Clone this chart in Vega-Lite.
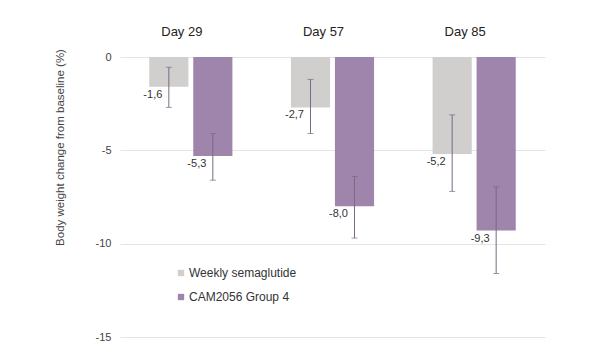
{
  "$schema": "https://vega.github.io/schema/vega-lite/v6.json",
  "width": 425,
  "height": 280,
  "autosize": "none",
  "padding": {"left": 120, "top": 57, "right": 60, "bottom": 19},
  "background": "white",
  "config": {
    "font": "Liberation Sans",
    "view": {"stroke": null}
  },
  "data": {
    "values": [
      {"day": "Day 29", "group": "Weekly semaglutide", "value": -1.6, "lo": -2.7, "hi": -0.55, "label": "-1,6"},
      {"day": "Day 29", "group": "CAM2056 Group 4", "value": -5.3, "lo": -6.6, "hi": -4.1, "label": "-5,3"},
      {"day": "Day 57", "group": "Weekly semaglutide", "value": -2.7, "lo": -4.1, "hi": -1.2, "label": "-2,7"},
      {"day": "Day 57", "group": "CAM2056 Group 4", "value": -8.0, "lo": -9.7, "hi": -6.4, "label": "-8,0"},
      {"day": "Day 85", "group": "Weekly semaglutide", "value": -5.2, "lo": -7.2, "hi": -3.1, "label": "-5,2"},
      {"day": "Day 85", "group": "CAM2056 Group 4", "value": -9.3, "lo": -11.6, "hi": -6.95, "label": "-9,3"}
    ]
  },
  "encoding": {
    "x": {
      "field": "day",
      "type": "nominal",
      "sort": ["Day 29", "Day 57", "Day 85"],
      "scale": {"paddingInner": 0, "paddingOuter": 0},
      "axis": {
        "orient": "top",
        "title": null,
        "domain": false,
        "ticks": false,
        "labelAngle": 0,
        "labelFontSize": 13,
        "labelColor": "#222222",
        "labelPadding": 19,
        "labelOffset": -9
      }
    },
    "xOffset": {
      "field": "group",
      "type": "nominal",
      "sort": ["Weekly semaglutide", "CAM2056 Group 4"],
      "scale": {"paddingInner": 0.11, "paddingOuter": 0.665}
    }
  },
  "layer": [
    {
      "mark": {"type": "bar"},
      "encoding": {
        "y": {
          "field": "value",
          "type": "quantitative",
          "scale": {"domain": [-15, 0], "nice": false, "zero": false},
          "axis": {
            "values": [0, -5, -10, -15],
            "labelExpr": "'' + datum.value",
            "title": "Body weight change from baseline (%)",
            "titleFontSize": 11.5,
            "titleFontWeight": "normal",
            "titleColor": "#444444",
            "titleX": -60,
            "titleY": 90,
            "titleAngle": -90,
            "titleAlign": "center",
            "titleBaseline": "middle",
            "domain": false,
            "ticks": false,
            "labelPadding": 9,
            "labelFontSize": 11,
            "labelColor": "#444444",
            "gridColor": "#e4e4e4",
            "gridWidth": 1
          }
        },
        "color": {
          "field": "group",
          "type": "nominal",
          "sort": ["Weekly semaglutide", "CAM2056 Group 4"],
          "scale": {"domain": ["Weekly semaglutide", "CAM2056 Group 4"], "range": ["#d1cece", "#9f84ab"]},
          "legend": {
            "orient": "none",
            "legendX": 55,
            "legendY": 210,
            "title": null,
            "symbolType": "square",
            "symbolSize": 40,
            "symbolStrokeWidth": 0,
            "labelFontSize": 12,
            "labelColor": "#333333",
            "labelOffset": 2,
            "rowPadding": 12
          }
        }
      }
    },
    {
      "mark": {"type": "rule", "color": "#7a6a82", "strokeWidth": 1},
      "encoding": {
        "y": {"field": "lo", "type": "quantitative"},
        "y2": {"field": "hi"}
      }
    },
    {
      "mark": {"type": "tick", "color": "#7a6a82", "thickness": 1, "size": 6, "orient": "horizontal"},
      "encoding": {
        "y": {"field": "lo", "type": "quantitative"}
      }
    },
    {
      "mark": {"type": "tick", "color": "#7a6a82", "thickness": 1, "size": 6, "orient": "horizontal"},
      "encoding": {
        "y": {"field": "hi", "type": "quantitative"}
      }
    },
    {
      "mark": {"type": "text", "dx": -16, "dy": 8, "baseline": "middle", "align": "center", "fontSize": 11, "color": "#333333"},
      "encoding": {
        "y": {"field": "value", "type": "quantitative"},
        "text": {"field": "label", "type": "nominal"}
      }
    }
  ]
}
